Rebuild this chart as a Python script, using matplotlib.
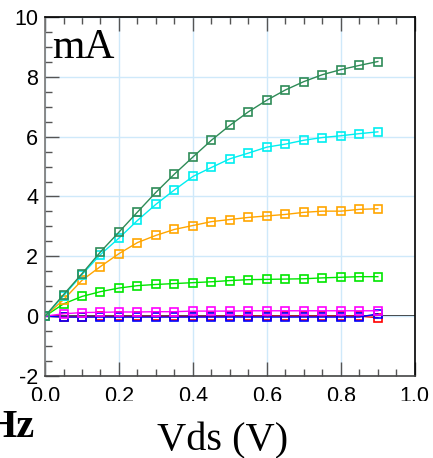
import numpy as np
import matplotlib
matplotlib.use("Agg")
import matplotlib.pyplot as plt
from matplotlib.patches import Rectangle
from matplotlib.ticker import MultipleLocator, FormatStrFormatter

plt.rcParams["axes.unicode_minus"] = False

# Vds sweep (V)
vds = np.round(np.arange(0, 0.901, 0.05), 2)

# drain current (mA) for each gate bias
id_seagreen = [0.0, 0.72, 1.42, 2.15, 2.81, 3.48, 4.14, 4.75, 5.32, 5.88,
               6.38, 6.83, 7.22, 7.56, 7.84, 8.07, 8.24, 8.38, 8.51]
id_cyan = [0.0, 0.68, 1.39, 2.06, 2.61, 3.20, 3.74, 4.22, 4.67, 4.97,
           5.26, 5.45, 5.65, 5.75, 5.88, 5.97, 6.03, 6.10, 6.16]
id_orange = [0.0, 0.55, 1.20, 1.66, 2.09, 2.46, 2.70, 2.90, 3.03, 3.16,
             3.23, 3.30, 3.35, 3.40, 3.47, 3.51, 3.51, 3.57, 3.59]
id_lime = [0.0, 0.41, 0.66, 0.82, 0.94, 1.02, 1.06, 1.09, 1.12, 1.15,
           1.19, 1.22, 1.23, 1.24, 1.25, 1.28, 1.30, 1.32, 1.32]
id_magenta = [0.0, 0.08, 0.12, 0.13, 0.14, 0.14, 0.15, 0.15, 0.17, 0.17,
              0.17, 0.18, 0.18, 0.18, 0.18, 0.18, 0.18, 0.18, 0.18]
id_red = [0.0, -0.02, -0.02, -0.01, -0.01, -0.01, -0.01, -0.01, -0.01, -0.01,
          0.0, 0.0, 0.0, 0.0, 0.0, 0.0, 0.0, 0.0, -0.05]
id_blue = [0.0, -0.03, -0.03, -0.03, -0.03, -0.03, -0.03, -0.03, -0.03, -0.03,
           -0.03, -0.03, -0.03, -0.03, -0.03, -0.03, -0.03, -0.03, 0.08]

curves = [(id_red, "red"), (id_blue, "blue"), (id_magenta, "magenta"),
          (id_lime, "#00e600"), (id_orange, "orange"),
          (id_cyan, "#00eef0"), (id_seagreen, "seagreen")]

fig = plt.figure(figsize=(4.33, 4.58), dpi=100)
ax = fig.add_axes([0.104, 0.179, 0.854, 0.784])

ax.axhline(0, color="black", lw=1.2, zorder=1.5)
for ydata, col in curves:
    ax.plot(vds, ydata, color=col, lw=1.0, marker="s", ms=6.3,
            mfc="none", mec=col, mew=1.2, zorder=3)

ax.set_xlim(0, 1.0)
ax.set_ylim(-2, 10)
ax.xaxis.set_major_locator(MultipleLocator(0.2))
ax.xaxis.set_minor_locator(MultipleLocator(0.05))
ax.yaxis.set_major_locator(MultipleLocator(2))
ax.yaxis.set_minor_locator(MultipleLocator(0.5))
ax.xaxis.set_major_formatter(FormatStrFormatter("%.1f"))
ax.yaxis.set_major_formatter(FormatStrFormatter("%d"))
ax.grid(True, which="major", color="#cfe9fa", lw=1.0, zorder=0)

ax.tick_params(which="both", direction="in", color="#555555",
               top=True, bottom=True, left=True, right=False)
ax.tick_params(which="major", length=10, width=1.0)
ax.tick_params(which="minor", length=5, width=1.0)
ax.tick_params(axis="x", pad=7)
ax.tick_params(axis="y", pad=5)
for lab in ax.get_xticklabels() + ax.get_yticklabels():
    lab.set_fontfamily("Liberation Sans")
    lab.set_fontsize(15.5)

ax.spines["left"].set_color("#777777")
ax.spines["bottom"].set_color("#444444")
ax.spines["top"].set_color("black")
ax.spines["right"].set_color("black")
for s in ax.spines.values():
    s.set_linewidth(1.2)

ax.text(0.018, 0.968, "mA", transform=ax.transAxes, ha="left", va="top",
        fontsize=30, family="Liberation Serif")

# bottom of the tick labels is cut off in the original
fig.add_artist(Rectangle((0, 0), 1, 57 / 458, transform=fig.transFigure,
                         facecolor="white", edgecolor="none", zorder=5))
fig.text(0.515, 8 / 458, "Vds (V)", ha="center", va="baseline",
         fontsize=29, family="Liberation Serif", zorder=6)
fig.text(35 / 433, 21 / 458, "Hz", ha="right", va="baseline",
         fontsize=29, family="Liberation Serif", fontweight="bold", zorder=6)

fig.savefig("out.png", dpi=100)
